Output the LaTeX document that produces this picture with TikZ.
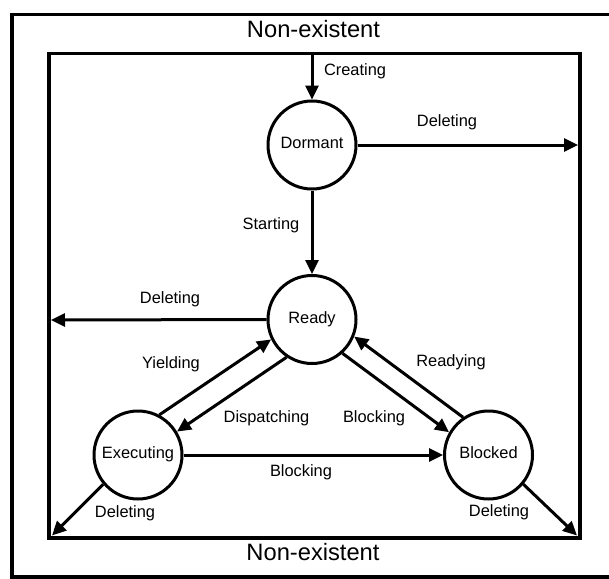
\documentclass[tikz,border=0pt]{standalone}
\usepackage{fontspec}
\setmainfont{Liberation Sans}
\usetikzlibrary{arrows.meta}
\begin{document}
\begin{tikzpicture}[x=1pt,y=-1pt,
  state/.style={circle,draw,line width=3pt,minimum size=88pt,inner sep=0pt,
    text height=0.716em,text depth=0pt,font=\fontsize{16.4}{18}\selectfont},
  lbl/.style={inner sep=0pt,text height=0.716em,text depth=0pt,font=\fontsize{16.4}{18}\selectfont},
  big/.style={inner sep=0pt,text height=0.716em,text depth=0pt,font=\fontsize{23.7}{26}\selectfont},
  arr/.style={line width=3pt,-{Triangle[length=14pt,width=13pt]}},
  boxframe/.style={draw,line width=3.2pt}]
\useasboundingbox (0,0) rectangle (609,578);
% frames
\draw[line width=3.6pt] (12,14.5) rectangle (614,577);
\draw[boxframe] (49,53.5) rectangle (580,538);
\node[big] (ne1) at (313.5,34) {Non-existent};
\node[big] (ne2) at (313,557) {Non-existent};
% states
\node[state] (dor) at (312,145) {Dormant};
\node[state] (rdy) at (312,319.5) {Ready};
\node[state] (exe) at (138,455) {Executing};
\node[state] (blk) at (488.5,455) {Blocked};
% free ends
\coordinate (ctop) at (312,55);
\coordinate (dright) at (578,145);
\coordinate (rleft) at (51,320);
\coordinate (ebl) at (52,535.5);
\coordinate (bbr) at (577,535.5);
% connectors
\draw[arr] (ctop) -- (dor.north);
\draw[arr] (dor.east) -- (dright);
\draw[arr] (dor.south) -- (rdy.north);
\draw[arr] (rdy.west) -- (rleft);
\draw[arr] (exe.62) -- (rdy.206);
\draw[arr] (rdy.236) -- (exe.31);
\draw[arr] (rdy.312) -- (blk.150);
\draw[arr] (blk.124) -- (rdy.338);
\draw[arr] (exe.east) -- (blk.west);
\draw[arr] (exe.220) -- (ebl);
\draw[arr] (blk.320) -- (bbr);
% labels
\node[lbl] (l1) at (355,72) {Creating};
\node[lbl] (l2) at (447,123) {Deleting};
\node[lbl] (l3) at (271,226) {Starting};
\node[lbl] (l4) at (170,300) {Deleting};
\node[lbl] (l5) at (171,365) {Yielding};
\node[lbl] (l6) at (451,363) {Readying};
\node[lbl] (l7) at (266.5,419) {Dispatching};
\node[lbl] (l8) at (374,419) {Blocking};
\node[lbl] (l9) at (301,473) {Blocking};
\node[lbl] (l10) at (125,514) {Deleting};
\node[lbl] (l11) at (499,513) {Deleting};
\end{tikzpicture}
\end{document}
